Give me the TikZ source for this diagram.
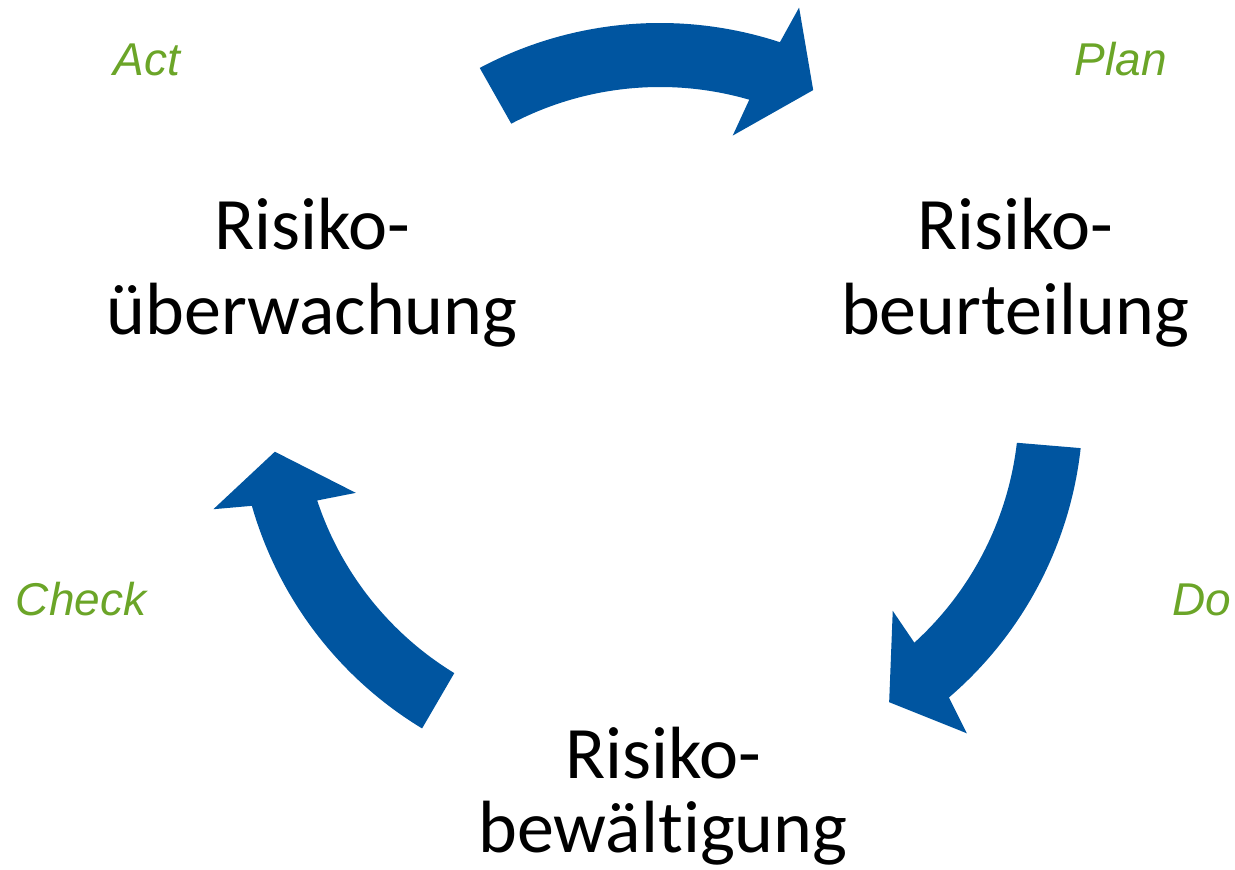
\documentclass[tikz,border=0pt]{standalone}
\usepackage{fontspec}
\setmainfont{Carlito}[Ligatures=NoCommon]
\newfontfamily\pdcafont{Liberation Sans}
\usepackage{tikz}
\definecolor{cycleblue}{RGB}{0,85,160}
\definecolor{pdcagreen}{RGB}{107,165,40}

\begin{document}
\begin{tikzpicture}[x=1pt, y=1pt,
    phase/.style={align=center, inner sep=0pt, anchor=base, font=\fontsize{74}{85}\selectfont},
    pdca/.style={inner sep=0pt, anchor=base, text=pdcagreen, font=\pdcafont\itshape\fontsize{46}{50}\selectfont},
    bigarrow/.style={fill=cycleblue}]

    \useasboundingbox (0, 0) rectangle (1235, 870);

    % centres of the three arcs
    \coordinate (c1) at (660, 463);
    \coordinate (c2) at (699, 464);
    \coordinate (c3) at (621, 470);

    \node[phase] (ueb) at (312, 535) {Risiko-\\überwachung};
    \node[phase] (beu) at (1015, 535) {Risiko-\\beurteilung};
    \node[phase, font=\fontsize{74}{74}\selectfont] (bew) at (663, 17) {Risiko-\\bewältigung};

    \node[pdca] (act) at (147, 794) {Act};
    \node[pdca] (plan) at (1121, 794) {Plan};
    \node[pdca] (check) at (81, 254) {Check};
    \node[pdca] (do) at (1202, 254) {Do};

    \fill[bigarrow, shift={(c1)}] (118:384) arc[start angle=118, end angle=71.8, radius=384]
        -- (70.8:423) -- (64.2:352) -- (75:281) -- (73.8:320)
        arc[start angle=73.8, end angle=117.7, radius=320] -- cycle;
    \fill[bigarrow, shift={(c2)}] (-6.3:384) arc[start angle=-6.3, end angle=-49.4, radius=384]
        -- (-50.7:423) -- (-57.3:352) -- (-46.6:282) -- (-47.7:320)
        arc[start angle=-47.7, end angle=-6.6, radius=320] -- cycle;
    \fill[bigarrow, shift={(c3)}] (238.8:384) arc[start angle=238.8, end angle=196, radius=384]
        -- (195:422) -- (188.5:350) -- (199.3:281) -- (198.3:320)
        arc[start angle=198.3, end angle=238.6, radius=320] -- cycle;

\end{tikzpicture}
\end{document}
